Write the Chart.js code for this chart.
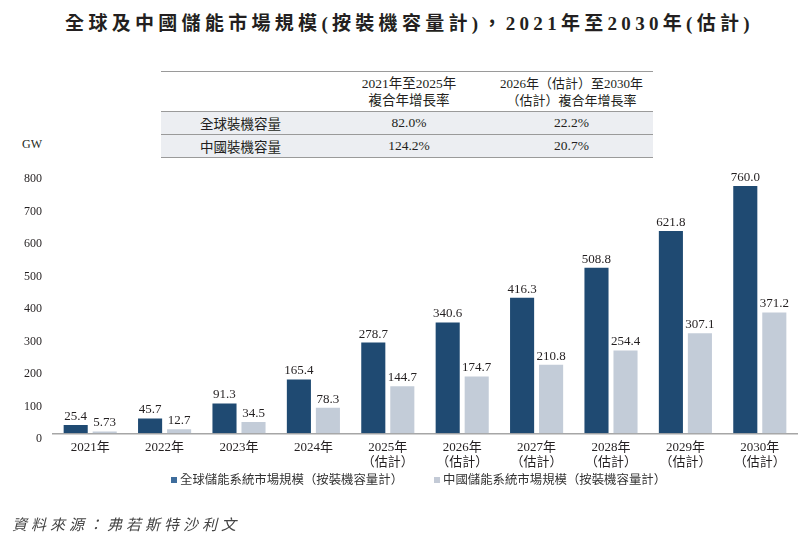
<!DOCTYPE html>
<html>
<head>
<meta charset="utf-8">
<script src="https://cdn.jsdelivr.net/npm/chart.js@4.4.1/dist/chart.umd.min.js"></script>
<style>
  body { margin: 0; background: #fff; }
  #wrap { position: relative; width: 807px; height: 540px; overflow: hidden;
    font-family: "Liberation Serif", "Noto Sans CJK TC", serif; color: #231f20; }
  #chart { position: absolute; left: 0; top: 0; }
  .title { position: absolute; left: 6px; top: 8px; width: 807px; text-align: center;
    font-size: 19px; font-weight: bold; letter-spacing: 4.3px; }
  .unit { position: absolute; right: 765px; top: 137px; font-size: 12px; }
  .source { position: absolute; left: 12px; top: 513px; font-size: 15px; font-style: italic;
    letter-spacing: 4px; color: #444; }
  table { position: absolute; left: 161px; top: 71px; width: 492px; border-collapse: collapse;
    table-layout: fixed; font-size: 13.5px; }
  table td { padding: 0; text-align: center; white-space: nowrap; }
  tr.head td { height: 39px; line-height: 17px; border-top: 1.5px solid #9a9a9a; border-bottom: 1.5px solid #9a9a9a; }
  tr.head td.c3 { font-size: 13px; }
  tr.row td { height: 22px; background: #eceef2; border-bottom: 1.5px solid #9a9a9a; }
  td.c1 { width: 159px; }
  td.c2 { width: 178px; }
  td.c3 { width: 147px; padding-right: 8px !important; }
  #legend { position: absolute; left: 171px; top: 472px; display: flex; font-size: 12.4px; color: #333; }
  #legend .item { display: flex; align-items: center; margin-right: 31px; line-height: 16px; }
  #legend .box { width: 6px; height: 6px; margin-right: 3px; }
</style>
</head>
<body>
<div id="wrap">
  <div class="title">全球及中國儲能市場規模(按裝機容量計)，2021年至2030年(估計)</div>
  <table>
    <tr class="head"><td class="c1"></td><td class="c2">2021年至2025年<br>複合年增長率</td><td class="c3">2026年（估計）至2030年<br>（估計）複合年增長率</td></tr>
    <tr class="row"><td class="c1">全球裝機容量</td><td class="c2">82.0%</td><td class="c3">22.2%</td></tr>
    <tr class="row"><td class="c1">中國裝機容量</td><td class="c2">124.2%</td><td class="c3">20.7%</td></tr>
  </table>
  <div class="unit">GW</div>
  <canvas id="chart" width="807" height="540"></canvas>
  <div id="legend"></div>
  <div class="source">資料來源：弗若斯特沙利文</div>
</div>
<script>
const years = [['2021年'], ['2022年'], ['2023年'], ['2024年'], ['2025年', '（估計）'], ['2026年', '（估計）'],
  ['2027年', '（估計）'], ['2028年', '（估計）'], ['2029年', '（估計）'], ['2030年', '（估計）']];
const globalGW = [25.4, 45.7, 91.3, 165.4, 278.7, 340.6, 416.3, 508.8, 621.8, 760.0];
const chinaGW = [5.73, 12.7, 34.5, 78.3, 144.7, 174.7, 210.8, 254.4, 307.1, 371.2];
const yTicks = [0, 100, 200, 300, 400, 500, 600, 700, 800];

const serif = '"Liberation Serif", "Noto Sans CJK TC", serif';
const darkBlue = '#1f4a72';
const lightBlue = '#c3ccd8';
const legendSwatch = ['#3e6d9c', '#c3cad6'];

function fmt(v) {
  return Math.round(v * 10) === v * 10 ? v.toFixed(1) : String(v);
}

// value labels above each bar
const barLabels = {
  id: 'barLabels',
  afterDatasetsDraw(chart) {
    const ctx = chart.ctx;
    ctx.save();
    ctx.font = '13px ' + serif;
    ctx.fillStyle = '#231f20';
    ctx.textAlign = 'center';
    ctx.textBaseline = 'bottom';
    chart.data.datasets.forEach((ds, i) => {
      chart.getDatasetMeta(i).data.forEach((bar, j) => {
        ctx.fillText(fmt(ds.data[j]), bar.x, bar.y - 2);
      });
    });
    ctx.restore();
  }
};

// html legend built from the datasets
const htmlLegend = {
  id: 'htmlLegend',
  afterUpdate(chart) {
    const el = document.getElementById('legend');
    el.innerHTML = '';
    chart.data.datasets.forEach((ds, i) => {
      const item = document.createElement('div');
      item.className = 'item';
      const box = document.createElement('span');
      box.className = 'box';
      box.style.background = legendSwatch[i];
      item.appendChild(box);
      item.appendChild(document.createTextNode(ds.label));
      el.appendChild(item);
    });
  }
};

new Chart(document.getElementById('chart'), {
  type: 'bar',
  data: {
    labels: years,
    datasets: [{
      label: '全球儲能系統市場規模（按裝機容量計）',
      data: globalGW,
      backgroundColor: darkBlue,
      categoryPercentage: 0.78,
      barPercentage: 0.83
    }, {
      label: '中國儲能系統市場規模（按裝機容量計）',
      data: chinaGW,
      backgroundColor: lightBlue,
      categoryPercentage: 0.78,
      barPercentage: 0.83
    }]
  },
  options: {
    responsive: false,
    animation: false,
    layout: { padding: { top: 173, right: 10, left: 20, bottom: 63 } },
    plugins: {
      tooltip: { enabled: false },
      legend: { display: false }
    },
    scales: {
      x: {
        grid: { display: false, drawTicks: false },
        border: { color: '#a6a6a6', width: 1.5 },
        ticks: { color: '#231f20', padding: 6, font: { family: serif, size: 13, lineHeight: 1.22 } }
      },
      y: {
        min: 0,
        max: 800,
        afterFit(scale) { scale.width = 33; },
        afterBuildTicks(scale) { scale.ticks = yTicks.map(v => ({ value: v })); },
        grid: { display: false, drawTicks: false },
        border: { display: false },
        ticks: { color: '#231f20', padding: 11, labelOffset: 6, font: { family: serif, size: 12 } }
      }
    }
  },
  plugins: [barLabels, htmlLegend]
});
</script>
</body>
</html>
